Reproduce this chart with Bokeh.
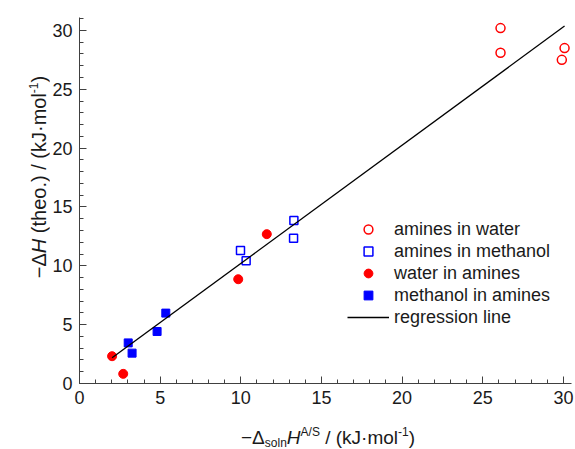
from bokeh.plotting import figure
from bokeh.layouts import row, column
from bokeh.models import Range1d, SingleIntervalTicker, Legend, LegendItem, Div
from bokeh.embed import file_html
from bokeh.resources import INLINE

# ---- data ----
aw_x = [26.1, 26.1, 30.07, 29.9]          # amines in water
aw_y = [30.2, 28.1, 28.5, 27.5]
am_x = [9.98, 10.33, 13.29, 13.27]        # amines in methanol
am_y = [11.3, 10.42, 13.85, 12.35]
wa_x = [2.02, 2.71, 9.84, 11.61]          # water in amines
wa_y = [2.32, 0.82, 8.86, 12.69]
ma_x = [3.02, 3.26, 4.81, 5.35]           # methanol in amines
ma_y = [3.45, 2.58, 4.42, 5.98]
reg_slope = 1.005
reg_intercept = 0.15
series_labels = ["amines in water", "amines in methanol", "water in amines",
                 "methanol in amines", "regression line"]

RED = "#ff0000"
BLUE = "#0000ff"
TXT = "#1a1a1a"
AX = "#404040"
FONT = "Liberation Sans"

X_END, Y_END = 30.5, 31.1
YDIV_W = 49            # width of the y-title strip
XDIV_H = 30            # height of the x-title strip
PW, PH = 575 - YDIV_W, 449 - XDIV_H
BL, BR, BT, BB = 30, 4, 17, 36

p = figure(width=PW, height=PH, x_range=Range1d(0, X_END), y_range=Range1d(0, Y_END),
           output_backend="svg", toolbar_location=None,
           min_border_left=BL, min_border_right=BR, min_border_top=BT, min_border_bottom=BB)
p.xgrid.visible = False
p.ygrid.visible = False
p.outline_line_color = None
p.background_fill_color = "white"
p.border_fill_color = "white"

for ax in (p.xaxis[0], p.yaxis[0]):
    ax.ticker = SingleIntervalTicker(interval=5, num_minor_ticks=5)
    ax.major_tick_in = 7
    ax.major_tick_out = 0
    ax.minor_tick_in = 4
    ax.minor_tick_out = 0
    ax.axis_line_color = AX
    ax.major_tick_line_color = AX
    ax.minor_tick_line_color = AX
    ax.major_label_text_font = FONT
    ax.major_label_text_font_size = "18px"
    ax.major_label_text_color = TXT
    ax.major_label_standoff = 7

r_aw = p.scatter(aw_x, aw_y, marker="circle", size=9, fill_color=None,
                 line_color=RED, line_width=1.5)
r_am = p.scatter(am_x, am_y, marker="square", size=8, fill_color=None,
                 line_color=BLUE, line_width=1.5)
r_wa = p.scatter(wa_x, wa_y, marker="circle", size=9, fill_color=RED, line_color=RED)
r_ma = p.scatter(ma_x, ma_y, marker="square", size=8, fill_color=BLUE, line_color=BLUE)

all_x = aw_x + am_x + wa_x + ma_x
reg_x = [min(all_x), max(all_x)]
reg_y = [reg_slope * v + reg_intercept for v in reg_x]
r_reg = p.line(reg_x, reg_y, line_color="black", line_width=1.3)

legend = Legend(items=[LegendItem(label=lab, renderers=[r])
                       for lab, r in zip(series_labels, [r_aw, r_am, r_wa, r_ma, r_reg])],
                location=(268, 55), glyph_width=42, glyph_height=22, label_height=22,
                label_standoff=5, spacing=0, padding=0, margin=0,
                border_line_color=None, background_fill_alpha=0,
                label_text_font=FONT, label_text_font_size="18px", label_text_color=TXT)
p.add_layout(legend)

FRAME_W = PW - BL - BR
FRAME_H = PH - BT - BB

base = ("font-family:'Liberation Sans',Arial,sans-serif; color:%s; "
        "white-space:nowrap; text-align:center;" % TXT)
sub = '<span style="font-size:12px; position:relative; top:3px;">%s</span>'
sup = '<span style="font-size:12px; position:relative; top:-8px;">%s</span>'

x_title = ("−Δ" + sub % "soln" + "<i>H</i>" + sup % "A/S" +
           " / (kJ·mol" + sup % "-1" + ")")
y_title = "−Δ<i>H</i> (theo.) / (kJ·mol" + sup % "-1" + ")"

xdiv = Div(text=('<div style="%s font-size:19px; line-height:19px; margin-left:%dpx; '
                 'margin-top:9px; width:%dpx;">%s</div>')
           % (base, BL + 3, FRAME_W, x_title),
           width=PW, height=XDIV_H, margin=0)
ydiv = Div(text=('<div style="%s font-size:20px; line-height:20px; margin-left:29px; '
                 'margin-top:360px; width:%dpx; '
                 'transform-origin:0 0; transform:rotate(-90deg);">%s</div>')
           % (base, FRAME_H, y_title),
           width=YDIV_W, height=449, margin=0)

layout = row(ydiv, column(p, xdiv, spacing=0), spacing=0)

open("out.html", "w").write(file_html(layout, INLINE))
